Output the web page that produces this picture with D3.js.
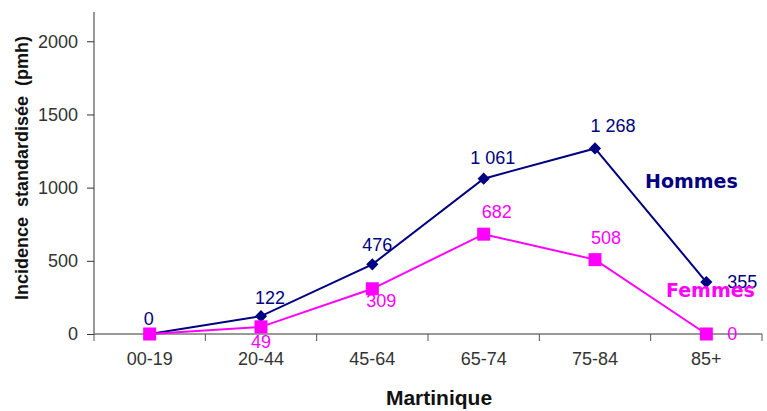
<!DOCTYPE html>
<html>
<head>
<meta charset="utf-8">
<script src="https://cdn.jsdelivr.net/npm/d3@7"></script>
<style>
  html, body { margin: 0; padding: 0; background: #fff; }
  svg { display: block; }
  text { font-family: "Liberation Sans", Arial, sans-serif; }
</style>
</head>
<body>
<svg id="chart" width="767" height="411"></svg>
<script>
// Incidence standardisée par classe d'âge, Martinique (pmh)
const ageGroups = ["00-19", "20-44", "45-64", "65-74", "75-84", "85+"];
const hommes = [0, 122, 476, 1061, 1268, 355];
const femmes = [0, 49, 309, 682, 508, 0];
const yTicks = [0, 500, 1000, 1500, 2000];

const navy = "#000080";
const magenta = "#FF00FF";

const svg = d3.select("#chart");
const margin = { left: 94, right: 5, top: 12, bottom: 77 };
const W = 767, H = 411;

const x = d3.scaleBand()
  .domain(ageGroups)
  .range([margin.left, W - margin.right])
  .paddingInner(0).paddingOuter(0);

const y = d3.scaleLinear()
  .domain([0, 2200])
  .range([H - margin.bottom, margin.top]);

const cx = d => x(d) + x.bandwidth() / 2;

// Y axis
const yAxis = svg.append("g")
  .attr("transform", `translate(${margin.left},0)`)
  .call(d3.axisLeft(y).tickValues(yTicks).tickSize(7).tickPadding(9).tickFormat(d3.format("d")));
yAxis.select(".domain").attr("stroke", "#333").attr("d", `M0,${y(0)}V${margin.top}`);
yAxis.selectAll(".tick line").attr("stroke", "#333");
yAxis.selectAll(".tick text")
  .attr("fill", "#333").style("font-size", "18px")
  .style("font-family", "'Liberation Sans', Arial, sans-serif");

// X axis with ticks on band boundaries
const xAxis = svg.append("g")
  .attr("transform", `translate(0,${y(0)})`);
xAxis.append("line")
  .attr("x1", margin.left).attr("x2", W - margin.right)
  .attr("y1", 0).attr("y2", 0)
  .attr("stroke", "#777").attr("stroke-width", 1.3);
const bounds = ageGroups.map(d => x(d)).concat([x(ageGroups[ageGroups.length - 1]) + x.bandwidth()]);
xAxis.selectAll("line.tk").data(bounds).enter().append("line")
  .attr("class", "tk")
  .attr("x1", d => d).attr("x2", d => d)
  .attr("y1", 0).attr("y2", 7)
  .attr("stroke", "#555");
xAxis.selectAll("text.lbl").data(ageGroups).enter().append("text")
  .attr("class", "lbl")
  .attr("x", d => cx(d)).attr("y", 31)
  .attr("text-anchor", "middle")
  .attr("fill", "#333").style("font-size", "18px")
  .text(d => d);

// Axis titles
svg.append("text")
  .attr("transform", `translate(28,168) rotate(-90)`)
  .attr("text-anchor", "middle")
  .style("font-size", "18px").style("font-weight", "bold")
  .style("white-space", "pre")
  .attr("fill", "#111")
  .text("Incidence  standardisée  (pmh)");

svg.append("text")
  .attr("x", 439).attr("y", 405)
  .attr("text-anchor", "middle")
  .style("font-size", "21px").style("font-weight", "bold")
  .attr("fill", "#111")
  .text("Martinique");

const line = d3.line()
  .x((d, i) => cx(ageGroups[i]))
  .y(d => y(d));

// Label placement around each point: [dx, dy, anchor]
const hommesLabelPos = [[-1, -9, "middle"], [9, -12, "middle"], [5, -13, "middle"],
                        [9, -15, "middle"], [18, -16, "middle"], [21, 6, "start"]];
const femmesLabelPos = [null, [0, 21, "middle"], [9, 18, "middle"],
                        [13, -16, "middle"], [11, -16, "middle"], [21, 6, "start"]];

const fmt = v => d3.format(",")(v).replace(/,/g, " ");

// Hommes series
svg.append("path")
  .datum(hommes)
  .attr("d", line)
  .attr("fill", "none").attr("stroke", navy).attr("stroke-width", 2);
svg.selectAll("path.diamond").data(hommes).enter().append("path")
  .attr("class", "diamond")
  .attr("d", d3.symbol().type(d3.symbolDiamond2).size(95))
  .attr("transform", (d, i) => `translate(${cx(ageGroups[i])},${y(d)})`)
  .attr("fill", navy);
svg.selectAll("text.hl").data(hommes).enter().append("text")
  .attr("class", "hl")
  .attr("x", (d, i) => cx(ageGroups[i]) + hommesLabelPos[i][0])
  .attr("y", (d, i) => y(d) + hommesLabelPos[i][1])
  .attr("text-anchor", (d, i) => hommesLabelPos[i][2])
  .attr("fill", navy).style("font-size", "18px")
  .text(d => fmt(d));

// Femmes series
svg.append("path")
  .datum(femmes)
  .attr("d", line)
  .attr("fill", "none").attr("stroke", magenta).attr("stroke-width", 2);
svg.selectAll("rect.sq").data(femmes).enter().append("rect")
  .attr("class", "sq")
  .attr("x", (d, i) => cx(ageGroups[i]) - 6.5)
  .attr("y", d => y(d) - 6.5)
  .attr("width", 13).attr("height", 13)
  .attr("fill", magenta);
svg.selectAll("text.fl").data(femmes.map((v, i) => ({ v, i })).filter(d => femmesLabelPos[d.i]))
  .enter().append("text")
  .attr("class", "fl")
  .attr("x", d => cx(ageGroups[d.i]) + femmesLabelPos[d.i][0])
  .attr("y", d => y(d.v) + femmesLabelPos[d.i][1])
  .attr("text-anchor", d => femmesLabelPos[d.i][2])
  .attr("fill", magenta).style("font-size", "18px")
  .text(d => fmt(d.v));

// Series names
svg.append("text")
  .attr("x", 645).attr("y", 188)
  .style("font-family", "'DejaVu Sans', sans-serif")
  .style("font-size", "19px").style("font-weight", "bold")
  .attr("fill", navy)
  .text("Hommes");
svg.append("text")
  .attr("x", 666).attr("y", 297)
  .style("font-family", "'DejaVu Sans', sans-serif")
  .style("font-size", "19px").style("font-weight", "bold")
  .attr("fill", magenta)
  .text("Femmes");
</script>
</body>
</html>
